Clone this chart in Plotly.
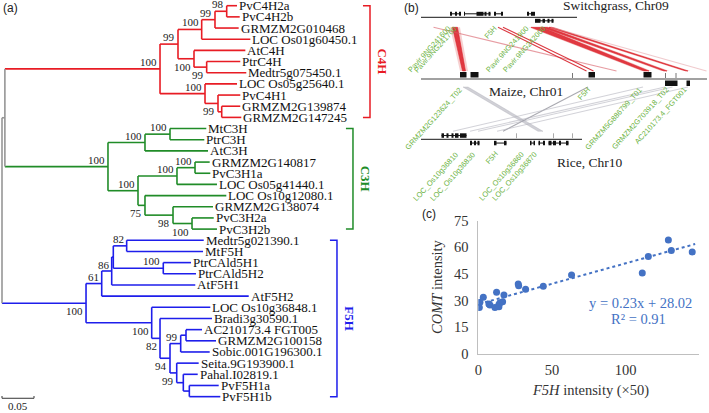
import plotly.graph_objects as go

W, H = 709, 413
SERIF = "Liberation Serif"
SANS = "Liberation Sans"

# ================= (a) phylogenetic tree data =================
LEAF_NAMES = [
    "PvC4H2a", "PvC4H2b", "GRMZM2G010468", "LOC Os01g60450.1", "AtC4H", "PtrC4H",
    "Medtr5g075450.1", "LOC Os05g25640.1", "PvC4H1", "GRMZM2G139874", "GRMZM2G147245",
    "MtC3H", "PtrC3H", "AtC3H", "GRMZM2G140817", "PvC3H1a", "LOC Os05g41440.1",
    "LOC Os10g12080.1", "GRMZM2G138074", "PvC3H2a", "PvC3H2b",
    "Medtr5g021390.1", "MtF5H", "PtrCAld5H1", "PtrCAld5H2", "AtF5H1", "AtF5H2",
    "LOC Os10g36848.1", "Bradi3g30590.1", "AC210173.4 FGT005", "GRMZM2G100158",
    "Sobic.001G196300.1", "Seita.9G193900.1", "Pahal.I02819.1", "PvF5H1a", "PvF5H1b"]
LEAF_DEPTH = [
    0.3672, 0.3714, 0.3698, 0.3880, 0.3802, 0.3723, 0.3817, 0.3672, 0.3723, 0.3723, 0.3739,
    0.3192, 0.3161, 0.3219, 0.3245, 0.3255, 0.3359, 0.3505, 0.3297, 0.3308, 0.3359,
    0.3152, 0.3141, 0.2953, 0.3031, 0.3020, 0.3855, 0.3255, 0.3281, 0.3125, 0.3344,
    0.3245, 0.3073, 0.3058, 0.3386, 0.3411]
CLADE_NAMES = ["C4H", "C3H", "F5H"]
CLADE_SIZES = [11, 10, 15]

# internal nodes, children listed before parents
NODE_IDS = ["c4_a", "c4_b", "c4_c", "c4_f", "c4_e", "c4_d", "c4_i", "c4_h", "c4_g", "c4_root",
            "c3_a", "c3_b", "c3_c", "c3_d", "c3_g", "c3_f", "c3_e", "c3_h", "c3_root",
            "f5_a", "f5_b", "f5_c", "f5_d", "f5_e", "f5_k", "f5_j", "f5_n", "f5_m", "f5_l",
            "f5_i", "f5_h", "f5_g", "f5_root", "c4c3", "root"]
NODE_CHILDREN = [
    ("PvC4H2a", "PvC4H2b"), ("c4_a", "GRMZM2G010468"), ("c4_b", "LOC Os01g60450.1"),
    ("PtrC4H", "Medtr5g075450.1"), ("AtC4H", "c4_f"), ("c4_c", "c4_e"),
    ("GRMZM2G139874", "GRMZM2G147245"), ("PvC4H1", "c4_i"), ("LOC Os05g25640.1", "c4_h"),
    ("c4_d", "c4_g"),
    ("MtC3H", "PtrC3H"), ("c3_a", "AtC3H"), ("GRMZM2G140817", "PvC3H1a"),
    ("c3_c", "LOC Os05g41440.1"), ("PvC3H2a", "PvC3H2b"), ("GRMZM2G138074", "c3_g"),
    ("LOC Os10g12080.1", "c3_f"), ("c3_d", "c3_e"), ("c3_b", "c3_h"),
    ("Medtr5g021390.1", "MtF5H"), ("PtrCAld5H1", "PtrCAld5H2"), ("f5_a", "f5_b"),
    ("f5_c", "AtF5H1"), ("f5_d", "AtF5H2"), ("AC210173.4 FGT005", "GRMZM2G100158"),
    ("f5_k", "Sobic.001G196300.1"), ("PvF5H1a", "PvF5H1b"), ("Pahal.I02819.1", "f5_n"),
    ("Seita.9G193900.1", "f5_m"), ("f5_j", "f5_l"), ("Bradi3g30590.1", "f5_i"),
    ("LOC Os10g36848.1", "f5_h"), ("f5_e", "f5_g"),
    ("c4_root", "c3_root"), ("c4c3", "f5_root")]
NODE_DEPTH = [0.3511, 0.3328, 0.3120, 0.3198, 0.3000, 0.2750, 0.3433, 0.3375, 0.3172, 0.2469,
              0.2625, 0.2234, 0.3016, 0.2734, 0.2969, 0.2672, 0.2234, 0.2125, 0.1656,
              0.1948, 0.2520, 0.1739, 0.1714, 0.1558, 0.2875, 0.2792, 0.2927, 0.2833, 0.2730,
              0.2625, 0.2469, 0.2339, 0.1313, 0.0045, 0.0]
NODE_SUPPORT = [98, 99, 100, 99, 100, 99, None, 99, 100, 100,
                100, 100, 100, 100, 100, 98, 75, 100, 100,
                82, 100, 86, None, 61, None, 99, None, None, 99,
                94, 82, 100, 100, None, None]
SCALE_BAR = 0.05

# style only: where the support value sits relative to its node
SUPPORT_SIDE = ["u", "u", "u", "d", "d", "u", "u", "d", "u", "u",
                "u", "u", "u", "u", "d", "d", "d", "u", "u",
                "u", "u", "d", "u", "u", "u", "u", "u", "u", "d",
                "d", "d", "d", "d", "u", "u"]
CLADE_COLOR = {"C4H": "rgb(232,28,36)", "C3H": "rgb(32,140,40)", "F5H": "rgb(30,30,235)", None: "rgb(150,150,150)"}
BRACKET_X = {"C4H": 0.5750, "C3H": 0.5484, "F5H": 0.5234}

# ================= (b) synteny data (positions in kb) =================
TRACK_NAMES = ["Switchgrass, Chr09", "Maize, Chr01", "Rice, Chr10"]
TRACK_START = [2, 2, 2]
TRACK_END = [314, 574, 324]
TRACK_TITLE_KB = [392, 212, 338]

GENE_TRACK = [0, 0, 0, 0, 0, 1, 1, 1, 1, 1, 1, 2, 2, 2, 2, 2, 2]
GENE_STRAND = [1, 1, 1, 1, -1, 1, 1, 1, 1, -1, -1, 1, -1, -1, -1, -1, -1]
GENE_EXONS = [
    [(60, 64), (70, 74), (78, 82)],
    [(88, 90), (113, 127), (129, 133), (137, 141)],
    [(148, 152), (162, 166)],
    [(214, 218), (222, 230)],
    [(230, 241), (245, 250), (255, 259), (263, 267)],
    [(80, 93)], [(101, 117)], [(337, 350)], [(447, 463)], [(490, 515)], [(533, 540)],
    [(43, 48), (53, 57), (63, 67), (70, 77), (80, 93)],
    [(100, 104), (108, 112), (115, 119)],
    [(148, 153), (168, 173)],
    [(220, 223), (227, 230)],
    [(237, 240), (246, 250)],
    [(257, 263), (266, 272), (278, 282), (292, 297)]]
MARK_TRACK = [1, 1, 1, 2, 2, 2]
MARK_KB = [305, 491, 512, 193, 267, 305]

LINK_SRC_TRACK = [0, 0, 0, 0, 0, 0, 0, 1, 1, 1, 1, 1, 1]
LINK_SRC_KB = [(63, 77), (27, 27), (156, 166), (220, 246), (243, 257), (256, 266), (262, 262),
               (86, 96), (336, 346), (446, 446), (490, 490), (505, 505), (536, 536)]
LINK_DST_KB = [(83, 93), (393, 393), (333, 347), (446, 460), (486, 496), (530, 538), (573, 573),
               (236, 246), (166, 174), (66, 66), (100, 100), (116, 116), (154, 154)]
LINK_STYLE = ["band", "pink", "double", "band", "band", "band", "faint",
              "gray", "grayline", "light", "light", "light", "light"]

GENE_LABELS = ["Pavir.9NG241600", "Pavir.9NG241700", "F5H", "Pavir.9NG241900", "Pavir.9NG242000",
               "GRMZM2G123624_T02", "F5H", "GRMZM5G886799_T01", "GRMZM2G703918_T02", "AC210173.4_FGT001",
               "LOC_Os10g36810", "LOC_Os10g36830", "F5H", "LOC_Os10g36860", "LOC_Os10g36870"]
GENE_LABEL_TRACK = [0, 0, 0, 0, 0, 1, 1, 1, 1, 1, 2, 2, 2, 2, 2]
GENE_LABEL_KB = [67, 80, 160, 223, 257, 90, 347, 450, 503, 540, 83, 117, 163, 214, 240]

# ================= (c) scatter data =================
F5H_INTENSITY = [0.7, 1.1, 3.4, 7.2, 7.9, 11.3, 12.4, 14.0, 14.0, 14.7, 16.5, 17.4,
                 27.1, 27.4, 32.1, 44.1, 63.3, 111.3, 115.4, 129.0, 131.0, 145.2]
COMT_INTENSITY = [26.1, 29.1, 31.9, 28.1, 27.6, 26.1, 34.7, 27.9, 26.6, 28.9, 29.4, 33.2,
                  39.4, 38.4, 36.4, 38.1, 44.4, 45.6, 54.9, 64.1, 58.3, 57.4]
FIT_SLOPE, FIT_INTERCEPT, FIT_R2 = 0.23, 28.02, 0.91
X_TICKS = [0, 50, 100, 150]
Y_TICKS = [0, 15, 30, 45, 60, 75]

fig = go.Figure()
ann = []
shapes = []

# ---------------- draw tree ----------------
leaf_clade = []
for c, s in zip(CLADE_NAMES, CLADE_SIZES):
    leaf_clade += [c] * s
nx, ny, ncl = {}, {}, {}
for i, n in enumerate(LEAF_NAMES):
    nx[n], ny[n], ncl[n] = LEAF_DEPTH[i], i, leaf_clade[i]
for nid, ch, d in zip(NODE_IDS, NODE_CHILDREN, NODE_DEPTH):
    nx[nid] = d
    ny[nid] = (ny[ch[0]] + ny[ch[1]]) / 2
    cl = {ncl[c] for c in ch}
    ncl[nid] = cl.pop() if (len(cl) == 1 and None not in cl) else None

segs = {}
def add_seg(col, xs, ys):
    s = segs.setdefault(col, ([], []))
    s[0].extend(xs + [None]); s[1].extend(ys + [None])

for nid, ch in zip(NODE_IDS, NODE_CHILDREN):
    add_seg(CLADE_COLOR[ncl[nid]], [nx[nid], nx[nid]], [ny[ch[0]], ny[ch[1]]])
    for c in ch:
        add_seg(CLADE_COLOR[ncl[c]], [nx[nid], nx[c]], [ny[c], ny[c]])
for col, (xs, ys) in segs.items():
    fig.add_trace(go.Scatter(x=xs, y=ys, mode="lines", line=dict(color=col, width=1.6),
                             xaxis="x", yaxis="y", hoverinfo="skip"))

for i, n in enumerate(LEAF_NAMES):
    ann.append(dict(x=LEAF_DEPTH[i], y=i, xref="x", yref="y", text=n, showarrow=False,
                    xanchor="left", yanchor="middle", xshift=0,
                    font=dict(family=SERIF, size=13, color="#111")))
for nid, sup, side in zip(NODE_IDS, NODE_SUPPORT, SUPPORT_SIDE):
    if sup is None:
        continue
    ann.append(dict(x=nx[nid], y=ny[nid], xref="x", yref="y", text=str(sup), showarrow=False,
                    xanchor="right", yanchor="middle", xshift=-1, yshift=7 if side == "u" else -8,
                    font=dict(family=SERIF, size=11, color="#222")))

start = 0
for c, s in zip(CLADE_NAMES, CLADE_SIZES):
    y0, y1 = start, start + s - 1
    bx = BRACKET_X[c]
    fig.add_trace(go.Scatter(x=[bx - 0.011, bx, bx, bx - 0.011], y=[y0, y0, y1, y1], mode="lines",
                             line=dict(color=CLADE_COLOR[c], width=1.5), xaxis="x", yaxis="y",
                             hoverinfo="skip"))
    ann.append(dict(x=bx + 0.019, y=(y0 + y1) / 2, xref="x", yref="y", text="<b>%s</b>" % c,
                    showarrow=False, textangle=90, xanchor="center", yanchor="middle",
                    font=dict(family=SERIF, size=13, color=CLADE_COLOR[c])))
    start += s

sb_y = len(LEAF_NAMES) - 1 + 0.15
fig.add_trace(go.Scatter(x=[0, 0, None, 0, SCALE_BAR, None, SCALE_BAR, SCALE_BAR],
                         y=[sb_y - 0.2, sb_y, None, sb_y, sb_y, None, sb_y - 0.2, sb_y],
                         mode="lines", line=dict(color="#555", width=1.2), xaxis="x", yaxis="y",
                         hoverinfo="skip"))
ann.append(dict(x=SCALE_BAR / 2, y=sb_y, xref="x", yref="y", text=str(SCALE_BAR), showarrow=False,
                yanchor="top", yshift=-1, borderpad=0, font=dict(family=SERIF, size=11, color="#222")))

# ---------------- draw synteny ----------------
TRACK_Y = [17.3, 79.0, 139.3]
BOX_H = [4.0, 5.5, 4.5]
for t in range(3):
    fig.add_trace(go.Scatter(x=[TRACK_START[t], TRACK_END[t]], y=[TRACK_Y[t]] * 2, mode="lines",
                             line=dict(color="#444", width=1.2), xaxis="x2", yaxis="y2", hoverinfo="skip"))
    ann.append(dict(x=TRACK_TITLE_KB[t], y=TRACK_Y[t] + [-11.5, 12, 23][t], xref="x2", yref="y2",
                    text=TRACK_NAMES[t], showarrow=False,
                    font=dict(family=SERIF, size=13.5, color="#222")))

def band(xa, xb, ya, xc, xd, yb):
    return [xa, xb, xd, xc, xa], [ya, ya, yb, yb, ya]

for st, s, d, style in zip(LINK_SRC_TRACK, LINK_SRC_KB, LINK_DST_KB, LINK_STYLE):
    if st == 0:
        ya, yb = TRACK_Y[0] + 10, TRACK_Y[1] - 8
    else:
        ya, yb = TRACK_Y[1] + 8, TRACK_Y[2] - 8
    if style == "band":
        xs, ys = band(s[0] - 3, s[1] + 3, ya, d[0] - 3, d[1] + 3, yb)
        fig.add_trace(go.Scatter(x=xs, y=ys, fill="toself", fillcolor="rgba(230,120,120,0.35)",
                                 line=dict(width=0), mode="lines", xaxis="x2", yaxis="y2", hoverinfo="skip"))
        xs, ys = band(s[0] + 2, s[1] - 2, ya, d[0] + 2, d[1] - 2, yb)
        fig.add_trace(go.Scatter(x=xs, y=ys, fill="toself", fillcolor="rgba(220,30,40,0.85)",
                                 line=dict(width=0.6, color="rgba(220,30,40,0.9)"), mode="lines",
                                 xaxis="x2", yaxis="y2", hoverinfo="skip"))
    elif style == "double":
        fig.add_trace(go.Scatter(x=[s[0], d[0], None, s[1], d[1]], y=[ya, yb, None, ya, yb], mode="lines",
                                 line=dict(color="rgba(215,35,45,0.9)", width=1.1),
                                 xaxis="x2", yaxis="y2", hoverinfo="skip"))
    elif style == "gray":
        xs, ys = band(s[0], s[1], ya, d[0], d[1], yb)
        fig.add_trace(go.Scatter(x=xs, y=ys, fill="toself", fillcolor="rgba(170,170,180,0.55)",
                                 line=dict(width=0.5, color="rgba(160,160,170,0.6)"), mode="lines",
                                 xaxis="x2", yaxis="y2", hoverinfo="skip"))
    else:
        col = {"pink": "rgba(215,90,100,0.6)", "faint": "rgba(225,150,155,0.5)",
               "grayline": "rgba(140,140,150,0.75)", "light": "rgba(180,180,190,0.6)"}[style]
        fig.add_trace(go.Scatter(x=[s[0], d[0]], y=[ya, yb], mode="lines", line=dict(color=col, width=1.1),
                                 xaxis="x2", yaxis="y2", hoverinfo="skip"))

for t, strand, exons in zip(GENE_TRACK, GENE_STRAND, GENE_EXONS):
    y_line = TRACK_Y[t]
    if strand > 0:
        y0, y1 = y_line - 1.5 - BOX_H[t], y_line - 1.5
    else:
        y0, y1 = y_line + 1.5, y_line + 1.5 + BOX_H[t]
    if len(exons) > 1:
        shapes.append(dict(type="line", xref="x2", yref="y2", x0=exons[0][0], x1=exons[-1][1],
                           y0=(y0 + y1) / 2, y1=(y0 + y1) / 2, line=dict(color="#111", width=1)))
    for a, b in exons:
        shapes.append(dict(type="rect", xref="x2", yref="y2", x0=a, x1=b, y0=y0, y1=y1,
                           fillcolor="#111", line=dict(width=0)))
for t, k in zip(MARK_TRACK, MARK_KB):
    shapes.append(dict(type="line", xref="x2", yref="y2", x0=k, x1=k, y0=TRACK_Y[t] - 6, y1=TRACK_Y[t] - 1,
                       line=dict(color="#777" if t == 1 else "#aaa", width=1)))

LABEL_DY = [6, 5, 9]
for txt, t, k in zip(GENE_LABELS, GENE_LABEL_TRACK, GENE_LABEL_KB):
    ann.append(dict(x=k, y=TRACK_Y[t] + LABEL_DY[t], xref="x2", yref="y2", text=txt, showarrow=False,
                    textangle=-48, xanchor="right", yanchor="top", borderpad=0,
                    font=dict(family=SANS, size=7.5, color="#6cb33f")))

# ---------------- draw scatter ----------------
fig.add_trace(go.Scatter(x=[min(F5H_INTENSITY), max(F5H_INTENSITY) + 2],
                         y=[FIT_SLOPE * min(F5H_INTENSITY) + FIT_INTERCEPT,
                            FIT_SLOPE * (max(F5H_INTENSITY) + 2) + FIT_INTERCEPT],
                         mode="lines", line=dict(color="#4472c4", width=2, dash="dot"),
                         xaxis="x3", yaxis="y3", hoverinfo="skip"))
fig.add_trace(go.Scatter(x=F5H_INTENSITY, y=COMT_INTENSITY, mode="markers",
                         marker=dict(color="#4472c4", size=7), xaxis="x3", yaxis="y3"))
ann.append(dict(x=110, y=28.7, xref="x3", yref="y3", showarrow=False,
                text="y = %.2fx + %.2f" % (FIT_SLOPE, FIT_INTERCEPT),
                font=dict(family=SERIF, size=14.5, color="#4472c4")))
ann.append(dict(x=109, y=19.7, xref="x3", yref="y3", showarrow=False,
                text="R² = %.2f" % FIT_R2, font=dict(family=SERIF, size=14.5, color="#4472c4")))

# axis titles and panel letters positioned on the full-figure helper axes (x2/y2)
def px_to_kb(px):
    return (px - 420) * 2

ann.append(dict(x=px_to_kb(437), y=287, xref="x2", yref="y2", showarrow=False, textangle=-90,
                text="<i>COMT</i> intensity", font=dict(family=SERIF, size=14.5, color="#333")))
ann.append(dict(x=px_to_kb(590), y=390, xref="x2", yref="y2", showarrow=False,
                text="<i>F5H</i> intensity (×50)", font=dict(family=SERIF, size=14.5, color="#333")))
for lab, px, py in [("(a)", 10, 8), ("(b)", 411, 8), ("(c)", 429, 214)]:
    ann.append(dict(x=px_to_kb(px), y=py, xref="x2", yref="y2", text=lab, showarrow=False,
                    font=dict(family=SANS, size=12, color="#222")))

tickfont = dict(family=SERIF, size=14.5, color="#333")
fig.update_layout(
    width=W, height=H, margin=dict(l=0, r=0, t=0, b=0, pad=0), autosize=False,
    paper_bgcolor="white", plot_bgcolor="rgba(0,0,0,0)", showlegend=False, hovermode=False,
    xaxis=dict(domain=[0, 1], range=[-0.003125, 1.104688], visible=False, fixedrange=True, automargin=False),
    yaxis=dict(domain=[0, 1], range=[36.464, -0.5103], visible=False, fixedrange=True, automargin=False),
    xaxis2=dict(domain=[0, 1], range=[-840, 578], visible=False, anchor="y2", automargin=False),
    yaxis2=dict(domain=[0, 1], range=[413, 0], visible=False, anchor="x2", automargin=False),
    xaxis3=dict(domain=[478.3 / W, 699.3 / W], range=[0, 150], anchor="y3", showline=True,
                linecolor="#bfbfbf", linewidth=1, showgrid=False, zeroline=False, automargin=False,
                tickvals=X_TICKS, ticks="", tickfont=tickfont, ticklabelstandoff=3),
    yaxis3=dict(domain=[(H - 354) / H, (H - 220.7) / H], range=[0, 75], anchor="x3", showline=True,
                linecolor="#bfbfbf", linewidth=1, showgrid=False, zeroline=False, automargin=False,
                tickvals=Y_TICKS, ticks="", tickfont=tickfont, ticklabelstandoff=6),
    annotations=ann, shapes=shapes,
)
fig.write_html("out.html", config={"displayModeBar": False, "staticPlot": True},
               post_script="document.body.style.margin='0';document.body.style.overflow='hidden';")
